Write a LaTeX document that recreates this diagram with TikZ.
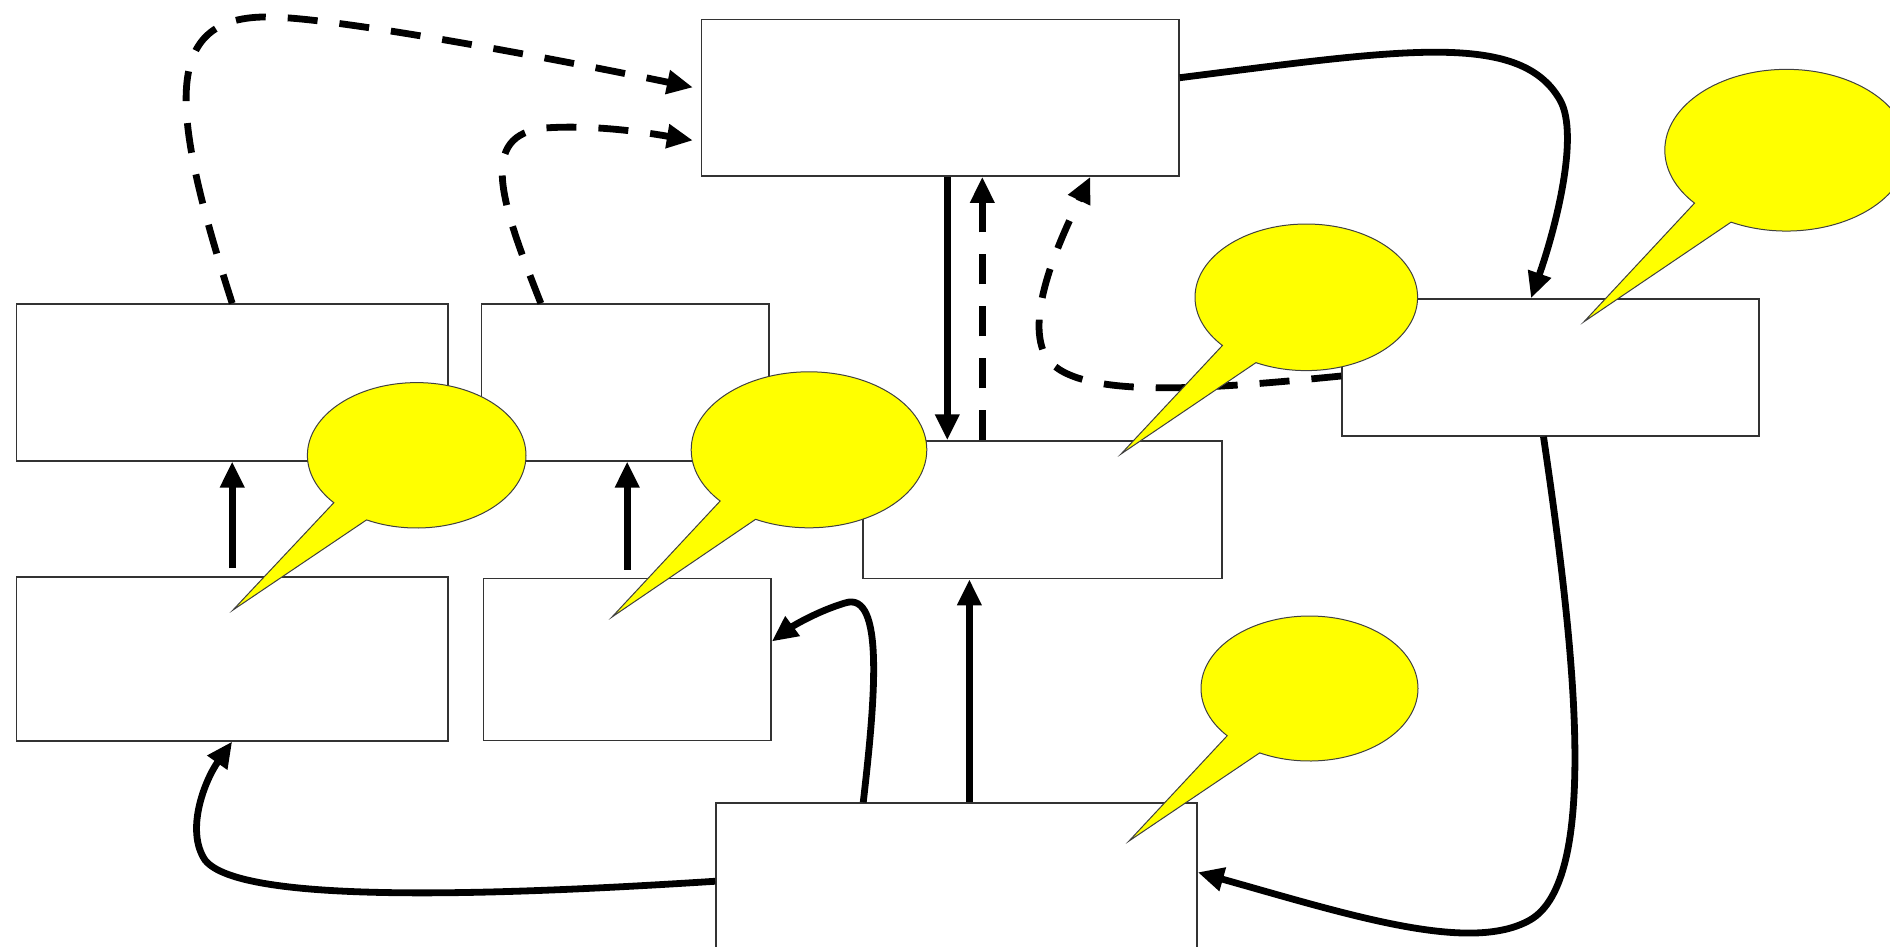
\documentclass[tikz,border=0pt]{standalone}
\usetikzlibrary{arrows.meta,shapes.callouts}
\definecolor{noteyellow}{RGB}{255,255,0}

\begin{document}
\begin{tikzpicture}[x=0.5pt,y=-0.5pt]
\tikzset{box/.style 2 args={draw=black!80, line width=.75pt, fill=white, inner sep=0, minimum width=#1, minimum height=#2}}
\tikzset{flow/.style={line width=3.4pt, -{Triangle[length=13pt,width=11.5pt]}}}
\tikzset{link/.style={flow, dash pattern=on 15pt off 11pt}}
\tikzset{note/.style={ellipse callout, draw=black!75, line width=.5pt, fill=noteyellow, inner sep=0, callout pointer arc=22}}
\useasboundingbox (0,0) rectangle (1890,947);
\clip (0,0) rectangle (1890,947);
% boxes
\node[box={238.75pt}{78.35pt}] (core) at (940.3,97.7) {};
\node[box={215.85pt}{78.35pt}] (srcL) at (232.2,382.4) {};
\node[box={143.7pt}{78.35pt}] (srcR) at (625.3,382.4) {};
\node[box={215.85pt}{81.85pt}] (inL) at (232.2,658.9) {};
\node[box={143.8pt}{81.2pt}] (inR) at (627.2,659.5) {};
\node[box={179.35pt}{68.75pt}] (mid) at (1042.4,509.8) {};
\node[box={208.5pt}{68.5pt}] (side) at (1550.5,367.5) {};
\node[box={240.5pt}{80pt}] (base) at (956.5,883) {};
% dashed feedback
\draw[link, shorten >=4pt] (srcL.north) .. controls (170,110) and (160,15) .. (270,17)
  .. controls (340,18) and (560,60) .. ([yshift=4.35pt]core.west);
\draw[link, shorten >=4pt] ([xshift=30pt]srcR.north west) .. controls (500,200) and (478,135) .. (545,128)
  .. controls (600,124) and (660,135) .. ([yshift=-22pt]core.west);
\draw[link] ([xshift=21pt]core.south |- mid.north) -- ([xshift=21pt]core.south);
\draw[link] ([yshift=-4.25pt]side.west) .. controls (1200,390) and (1070,400) .. (1045,355)
  .. controls (1025,315) and (1060,240) .. ([xshift=75pt]core.south);
% solid flow
\draw[flow] ([xshift=3.5pt]core.south) -- ([xshift=3.5pt]core.south |- mid.north);
\draw[flow] ([yshift=10pt]core.east) .. controls (1400,50) and (1520,30) .. (1560,100)
  .. controls (1580,135) and (1555,230) .. ([xshift=-9.75pt]side.north);
\draw[flow] ([xshift=-3.5pt]side.south) .. controls (1575,650) and (1600,880) .. (1530,920)
  .. controls (1470,954) and (1350,915) .. ([yshift=-35pt]base.north east);
\draw[flow] ([yshift=-39.5pt]base.north west) .. controls (500,895) and (240,905) .. (205,860)
  .. controls (185,830) and (205,780) .. (inL.south);
\draw[flow] ([xshift=74pt]base.north west) .. controls (875,700) and (885,590) .. (845,603)
  .. controls (815,612) and (790,628) .. ([yshift=9pt]inR.east);
\draw[flow] ([xshift=-36.5pt]mid.south |- base.north) -- ([xshift=-36.5pt]mid.south);
\draw[flow] ([yshift=4pt]inL.north) -- (srcL.south);
\draw[flow] ([yshift=4pt]inR.north) -- (inR.north |- srcR.south);
% callouts
\node[note, minimum width=109.3pt, minimum height=72.7pt, callout absolute pointer={(233,610)}] (note1) at (416.7,455.3) {};
\node[note, minimum width=117.8pt, minimum height=78pt, callout absolute pointer={(612,617)}] (note2) at (809,449.8) {};
\node[note, minimum width=111.3pt, minimum height=73.3pt, callout absolute pointer={(1121,454)}] (note3) at (1306.3,297.3) {};
\node[note, minimum width=121.7pt, minimum height=80.85pt, callout absolute pointer={(1584,321.7)}] (note4) at (1786.5,150.2) {};
\node[note, minimum width=108.5pt, minimum height=72.5pt, callout absolute pointer={(1129,841)}] (note5) at (1309.5,688.5) {};
\end{tikzpicture}
\end{document}
